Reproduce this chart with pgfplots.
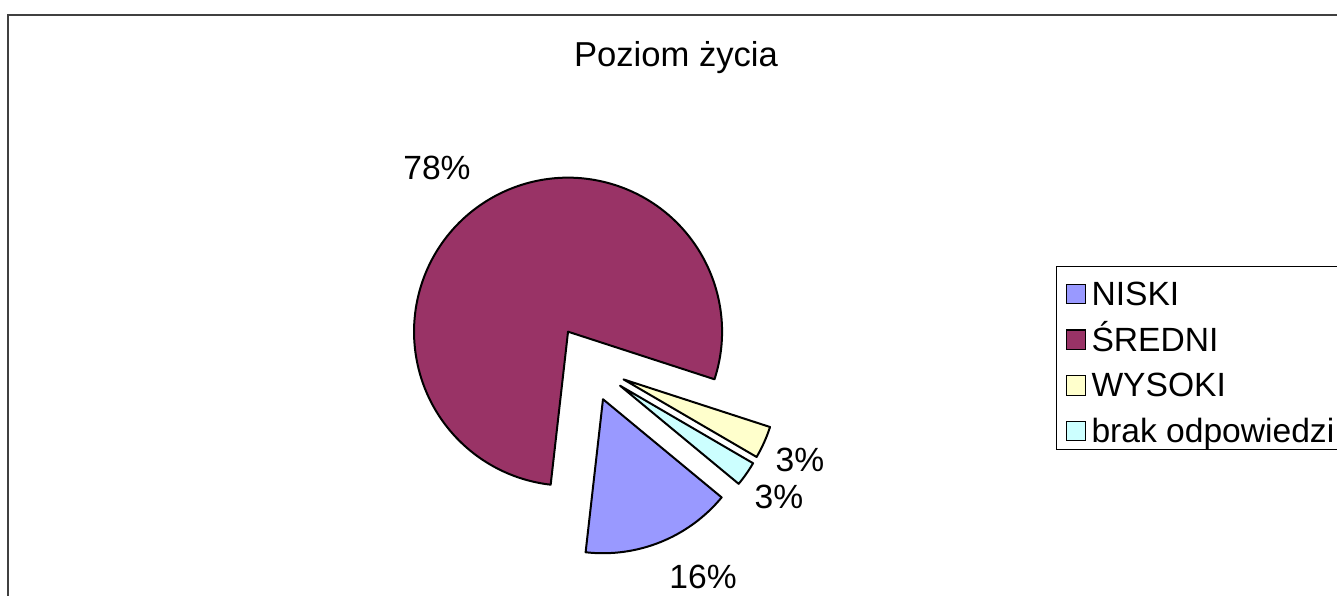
\documentclass[border=0pt]{standalone}
\usepackage{pgfplots}
\pgfplotsset{compat=1.18}
\usepackage{pgfplotstable}
\usetikzlibrary{calc}
\usepackage{fontspec}
\setmainfont{Liberation Sans}

\definecolor{niski}{HTML}{9999FF}
\definecolor{sredni}{HTML}{993366}
\definecolor{wysoki}{HTML}{FFFFCC}
\definecolor{brak}{HTML}{CCFFFF}
\definecolor{framec}{HTML}{404040}

\pgfplotstableread{
name value
NISKI 15.8
SREDNI 78.2
WYSOKI 3.4
brak 2.6
}\piedata
\pgfplotstablegetelem{0}{value}\of\piedata \edef\vA{\pgfplotsretval}
\pgfplotstablegetelem{1}{value}\of\piedata \edef\vB{\pgfplotsretval}
\pgfplotstablegetelem{2}{value}\of\piedata \edef\vC{\pgfplotsretval}
\pgfplotstablegetelem{3}{value}\of\piedata \edef\vD{\pgfplotsretval}

\def\sA{-39.6}% first slice starts here (math angle), slices run clockwise

% slice: start angle, end angle (ccw), colour
\newcommand\pieslice[3]{%
  \filldraw[fill=#3, draw=black, line width=1pt, line join=round]
    ($(axis cs:588.7,363.8)+({((#1)+(#2))/2}:19.1pt)$) -- ++({#1}:77pt)
    arc[start angle={#1}, end angle={#2}, radius=77pt] -- cycle;}

\pgfplotsset{sq/.style={legend image code/.code={%
  \draw[##1, draw=black, line width=0.6pt] (0pt,-7.1pt) rectangle (9.6pt,2.6pt);}}}

\newcommand\lbl{\fontsize{16.8pt}{19pt}\selectfont}

\begin{document}
\begin{tikzpicture}
\path[use as bounding box, clip] (0,0) rectangle (668.5pt,297.5pt);
\begin{axis}[
  at={(0,0)}, anchor=south west,
  scale only axis, width=668.5pt, height=297.5pt,
  xmin=0, xmax=1337, ymin=0, ymax=595, y dir=reverse,
  hide axis, clip=false,
  legend cell align=left,
  legend style={at={(axis cs:1056,266)}, anchor=north west,
    draw=black, line width=0.5pt, font=\lbl,
    inner xsep=4.5pt, inner ysep=3.5pt,
    row sep=6.85pt, /tikz/column sep=2.8pt,
    nodes={inner sep=0pt, text height=16pt, text depth=0pt}},
]
\addlegendimage{sq, fill=niski}\addlegendentry{NISKI}
\addlegendimage{sq, fill=sredni}\addlegendentry{ŚREDNI}
\addlegendimage{sq, fill=wysoki}\addlegendentry{WYSOKI}
\addlegendimage{sq, fill=brak}\addlegendentry{brak odpowiedzi\rule{40pt}{0pt}}

\draw[line width=1pt, framec] (axis cs:8,620) -- (axis cs:8,15) -- (axis cs:1360,15);

\pieslice{\sA-3.6*\vA}{\sA}{niski}
\pieslice{\sA-3.6*(\vA+\vB)}{\sA-3.6*\vA}{sredni}
\pieslice{\sA-3.6*(\vA+\vB+\vC)}{\sA-3.6*(\vA+\vB)}{wysoki}
\pieslice{\sA-3.6*(\vA+\vB+\vC+\vD)}{\sA-3.6*(\vA+\vB+\vC)}{brak}

\node[font=\fontsize{17.3pt}{20pt}\selectfont] at (axis cs:676,58) {Poziom życia};
\node[font=\lbl] at (axis cs:437,168) {78\%};
\node[font=\lbl] at (axis cs:703,577) {16\%};
\node[font=\lbl] at (axis cs:800,460) {3\%};
\node[font=\lbl] at (axis cs:779,497) {3\%};
\end{axis}
\end{tikzpicture}
\end{document}
